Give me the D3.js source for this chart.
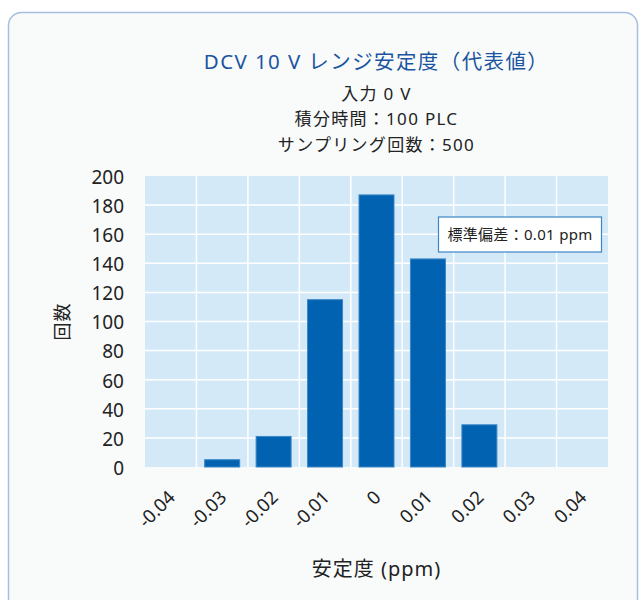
<!DOCTYPE html>
<html>
<head>
<meta charset="utf-8">
<script src="https://cdn.jsdelivr.net/npm/d3@7"></script>
<style>
  body { margin: 0; background: #ffffff; }
  text { font-family: "Noto Sans", "Noto Sans CJK JP", sans-serif; }
</style>
</head>
<body>
<div id="chart"></div>
<script>
const categories = ["-0.04", "-0.03", "-0.02", "-0.01", "0", "0.01", "0.02", "0.03", "0.04"];
const counts = [0, 5, 21, 115, 187, 143, 29, 0, 0];
const yTicks = [0, 20, 40, 60, 80, 100, 120, 140, 160, 180, 200];
const titleText = "DCV 10 V レンジ安定度（代表値）";
const subLines = ["入力 0 V", "積分時間：100 PLC", "サンプリング回数：500"];
const noteText = "標準偏差：0.01 ppm";

const width = 644, height = 600;
const margin = { top: 176, right: 36, bottom: 133, left: 145 };
const plotW = width - margin.left - margin.right;
const plotH = height - margin.top - margin.bottom;

const svg = d3.select("#chart").append("svg")
  .attr("width", width)
  .attr("height", height);

// card
svg.append("rect")
  .attr("x", 8.5).attr("y", 12.5)
  .attr("width", 629).attr("height", 600)
  .attr("rx", 13)
  .attr("fill", "#f9fbfb")
  .attr("stroke", "#a6bedf")
  .attr("stroke-width", 1.5);

const cx = margin.left + plotW / 2;

svg.append("text")
  .attr("x", cx).attr("y", 69)
  .attr("text-anchor", "middle")
  .style("font-size", "20.5px")
  .style("letter-spacing", "1.4px")
  .style("fill", "#1b55a0")
  .text(titleText);

svg.selectAll(".sub")
  .data(subLines)
  .join("text")
  .attr("class", "sub")
  .attr("x", cx)
  .attr("y", (d, i) => 99.5 + i * 25.7)
  .attr("text-anchor", "middle")
  .style("font-size", "17px")
  .style("letter-spacing", "1.3px")
  .style("fill", "#222")
  .text(d => d);

const x = d3.scaleBand()
  .domain(categories)
  .range([0, plotW])
  .paddingInner(0.32)
  .paddingOuter(0.16);

const y = d3.scaleLinear()
  .domain([0, 200])
  .range([plotH, 0]);

const g = svg.append("g")
  .attr("transform", `translate(${margin.left},${margin.top})`);

g.append("rect")
  .attr("width", plotW)
  .attr("height", plotH)
  .attr("fill", "#d3e9f8");

const step = x.step();

// gridlines
g.selectAll(".hgrid")
  .data(yTicks.filter(d => d > 0 && d < 200))
  .join("line")
  .attr("x1", 0).attr("x2", plotW)
  .attr("y1", d => y(d)).attr("y2", d => y(d))
  .attr("stroke", "#ffffff")
  .attr("stroke-width", 1.5);

g.selectAll(".vgrid")
  .data(categories.slice(1))
  .join("line")
  .attr("x1", d => x(d) - step * x.paddingInner() / 2)
  .attr("x2", d => x(d) - step * x.paddingInner() / 2)
  .attr("y1", 0).attr("y2", plotH)
  .attr("stroke", "#ffffff")
  .attr("stroke-width", 1.5);

// bars
g.selectAll(".bar")
  .data(categories.map((c, i) => ({ c, v: counts[i] })).filter(d => d.v > 0))
  .join("rect")
  .attr("x", d => x(d.c))
  .attr("y", d => y(d.v))
  .attr("width", x.bandwidth())
  .attr("height", d => plotH - y(d.v))
  .attr("fill", "#0062b0")
  .attr("stroke", "#3c86c6")
  .attr("stroke-width", 1);

// y axis labels
g.selectAll(".ytick")
  .data(yTicks)
  .join("text")
  .attr("x", -21)
  .attr("y", d => y(d) + 1)
  .attr("dy", "0.36em")
  .attr("text-anchor", "end")
  .style("font-size", "19px")
  .style("fill", "#222")
  .text(d => d);

// x axis labels
g.selectAll(".xtick")
  .data(categories)
  .join("text")
  .attr("text-anchor", "end")
  .attr("transform", d => `translate(${x(d) + x.bandwidth() / 2 + 1},${plotH + 27}) rotate(-45)`)
  .attr("dy", "0.35em")
  .style("font-size", "18.5px")
  .style("fill", "#222")
  .text(d => d);

// axis titles
svg.append("text")
  .attr("transform", `translate(69,${margin.top + plotH / 2}) rotate(-90)`)
  .attr("text-anchor", "middle")
  .style("font-size", "18px")
  .style("letter-spacing", "1px")
  .style("fill", "#222")
  .text("回数");

svg.append("text")
  .attr("x", cx).attr("y", 576)
  .attr("text-anchor", "middle")
  .style("font-size", "20px")
  .style("letter-spacing", "1px")
  .style("fill", "#222")
  .text("安定度 (ppm)");

// note box
const note = svg.append("g").attr("transform", "translate(438.5,217)");
note.append("rect")
  .attr("width", 163).attr("height", 35)
  .attr("fill", "#ffffff")
  .attr("stroke", "#3c86c6")
  .attr("stroke-width", 1.2);
note.append("text")
  .attr("x", 81.5).attr("y", 18)
  .attr("dy", "0.35em")
  .attr("text-anchor", "middle")
  .style("font-size", "15px")
  .style("letter-spacing", "0.3px")
  .style("fill", "#222")
  .text(noteText);
</script>
</body>
</html>
